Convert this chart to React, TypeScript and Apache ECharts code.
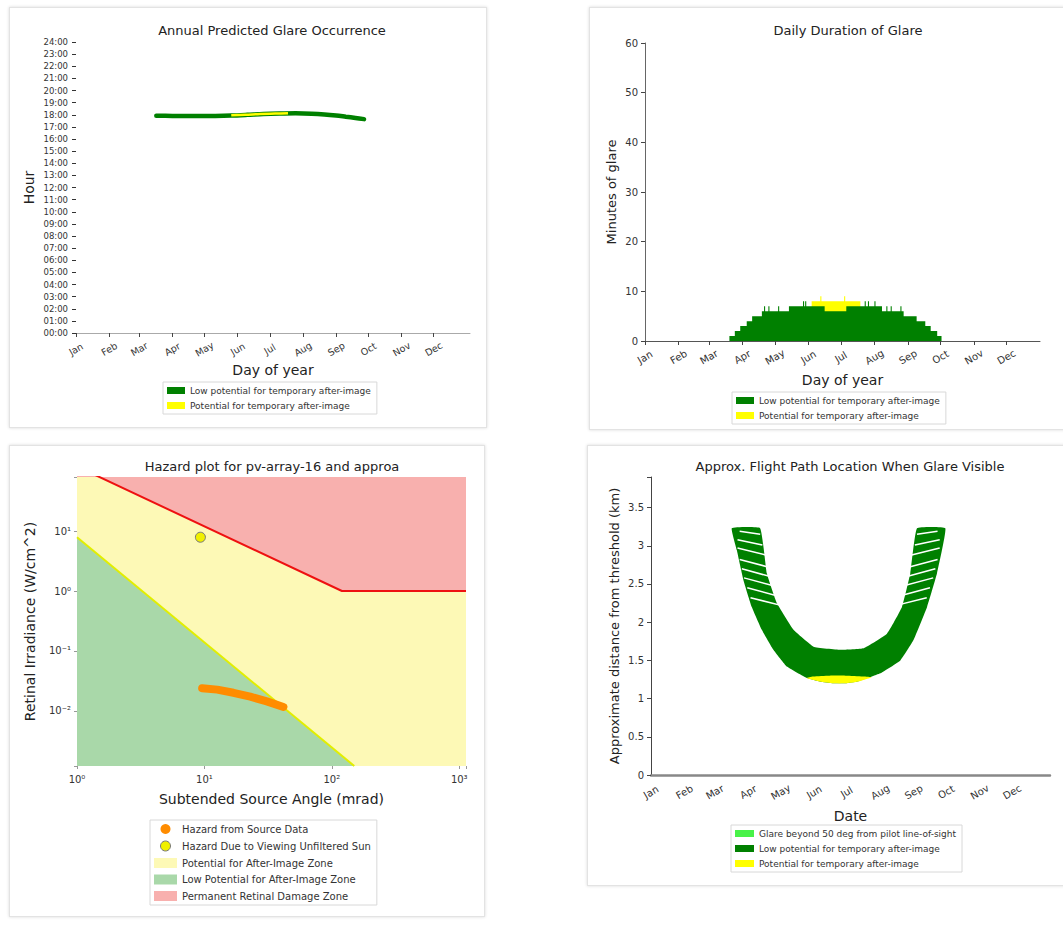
import React, { useEffect, useRef } from "react";
import * as echarts from "echarts";

const FONT = "'DejaVu Sans', sans-serif";

// ---------- shared axis data ----------
const MONTHS = ["Jan", "Feb", "Mar", "Apr", "May", "Jun", "Jul", "Aug", "Sep", "Oct", "Nov", "Dec"];
const MONTH_START_DAYS = [0, 31, 59, 90, 120, 151, 181, 212, 243, 273, 304, 334];

// ---------- panel 1: Annual Predicted Glare Occurrence (day, hour) ----------
const annualLowPotential: number[][] = [
  [75, 17.92], [90, 17.9], [110, 17.89], [130, 17.9], [145, 17.93], [160, 17.99], [175, 18.06],
  [190, 18.1], [205, 18.12], [220, 18.09], [232, 18.03], [243, 17.94], [252, 17.84], [261, 17.74], [269, 17.64],
];
const annualPotential: number[][] = [
  [145, 17.95], [158, 17.99], [172, 18.06], [186, 18.1], [198, 18.12],
];

// ---------- panel 2: Daily Duration of Glare (run starts: [day, minutes]) ----------
const durationLowSteps: number[][] = [
  [78, 1], [83, 2], [88, 3], [94, 4], [99, 5], [108, 6], [110, 7], [111, 6], [114, 7], [115, 6],
  [123, 7], [124, 6], [133, 7], [146, 8], [147, 7], [148, 8], [149, 7], [166, 6], [186, 7],
  [203, 8], [204, 7], [206, 8], [207, 7], [212, 8], [213, 7], [219, 6], [223, 7], [224, 6],
  [227, 7], [228, 6], [236, 7], [237, 6], [239, 5], [251, 4], [259, 3], [264, 2], [270, 1], [274, 0],
];
const durationPotentialSteps: number[][] = [
  [154, 8], [162, 9], [163, 8], [184, 9], [185, 8], [199, 0],
];

// ---------- panel 3: Hazard plot (mrad, W/cm^2) ----------
const retinalDamageLimit: number[][] = [[1, 120], [120, 1], [1130, 1]];
const afterImageLimit: number[][] = [[1, 7.9], [150, 0.0012]];
const sourceHazard: number[][] = [
  [9.6, 0.0239], [12.6, 0.0226], [16.9, 0.02], [22.9, 0.0172], [30.9, 0.0144], [41.7, 0.0116],
];
const sunHazard: number[][] = [[9.3, 7.9]];

// ---------- panel 4: Flight path location (day, km) ----------
const flightBandLow: number[][] = [
  [74.7, 3.23], [79.4, 2.94], [85.5, 2.55], [93.2, 2.2], [102.5, 1.9], [113.2, 1.64], [125.6, 1.42],
  [144.2, 1.27], [156, 1.225], [168.8, 1.2], [180, 1.2], [190.5, 1.22], [212, 1.33], [230.6, 1.5],
  [242.9, 1.77], [255.3, 2.2], [264.5, 2.64], [272.2, 3.23],
  [246, 3.23], [239.8, 2.64], [232.1, 2.2], [218.2, 1.85], [196.6, 1.66], [175, 1.64], [150.3, 1.68],
  [131.8, 1.9], [116.4, 2.25], [107.1, 2.64], [100.9, 3.23],
];
const flightBandPotential: number[][] = [
  [144, 1.27], [156, 1.225], [168.8, 1.2], [180, 1.2], [190.5, 1.22], [204, 1.28],
  [196, 1.29], [180, 1.3], [165, 1.3], [150, 1.29],
];
const flightStripeGaps: number[][][] = [
  [[82, 3.19], [101, 3.15]], [[80, 3.08], [103, 3.01]], [[80, 2.97], [106, 2.88]], [[82, 2.82], [109, 2.72]],
  [[84, 2.7], [112, 2.59]], [[86, 2.58], [115, 2.47]], [[89, 2.45], [118, 2.34]], [[92, 2.32], [123, 2.21]],
  [[246, 3.15], [265, 3.19]], [[244, 3.01], [267, 3.08]], [[241, 2.88], [267, 2.97]], [[238, 2.72], [265, 2.82]],
  [[235, 2.59], [263, 2.7]], [[232, 2.47], [261, 2.58]], [[229, 2.34], [258, 2.45]], [[224, 2.21], [255, 2.32]],
];

const LOW = "Low potential for temporary after-image";
const POT = "Potential for temporary after-image";
const GREEN = "#008000";
const YELLOW = "#ffff00";

function monthAxis(max: number, fontSize: number, margin: number, lineColor: string, extra: any = {}) {
  return {
    type: "value",
    min: 0,
    max,
    axisLine: { show: true, lineStyle: { color: lineColor, width: 1 } },
    axisTick: { show: true, customValues: MONTH_START_DAYS, length: 4, lineStyle: { color: "#444" } },
    axisLabel: {
      customValues: MONTH_START_DAYS,
      formatter: (v: number) => MONTHS[MONTH_START_DAYS.indexOf(Math.round(v))] || "",
      rotate: 30,
      align: "center",
      verticalAlign: "middle",
      margin,
      fontSize,
      color: "#333",
      fontFamily: FONT,
    },
    splitLine: { show: false },
    nameLocation: "middle",
    nameTextStyle: { fontSize: 14, color: "#222", fontFamily: FONT },
    ...extra,
  };
}

function titleText(text: string, x: number, y: number) {
  return {
    type: "text",
    x,
    y,
    style: { text, align: "center", verticalAlign: "middle", fontSize: 13, fontFamily: FONT, fill: "#222" },
  };
}

function legendBase(left: number, top: number, itemW: number, itemH: number, gap: number, fontSize: number) {
  return {
    orient: "vertical",
    left,
    top,
    itemWidth: itemW,
    itemHeight: itemH,
    itemGap: gap,
    selectedMode: false,
    padding: [4, 6, 4, 4],
    borderColor: "#d8d8d8",
    borderWidth: 1,
    textStyle: { fontSize, color: "#333", fontFamily: FONT },
  };
}

function option1(): any {
  return {
    animation: false,
    textStyle: { fontFamily: FONT },
    graphic: [titleText("Annual Predicted Glare Occurrence", 272, 30)],
    grid: { left: 76, top: 42, width: 394, height: 291 },
    xAxis: monthAxis(368, 9.5, 16, "#aaa", { name: "Day of year", nameGap: 30 }),
    yAxis: {
      type: "value",
      min: 0,
      max: 24,
      interval: 1,
      axisLine: { show: false },
      axisTick: { show: true, length: 4, lineStyle: { color: "#333" } },
      axisLabel: {
        formatter: (v: number) => (v < 10 ? "0" : "") + v + ":00",
        fontSize: 8.5,
        color: "#333",
        margin: 8,
        fontFamily: FONT,
      },
      splitLine: { show: false },
      name: "Hour",
      nameLocation: "middle",
      nameGap: 40,
      nameTextStyle: { fontSize: 14, color: "#222", fontFamily: FONT },
    },
    legend: {
      ...legendBase(163, 382, 18, 7, 6, 9),
      data: [
        { name: LOW, icon: "rect", itemStyle: { color: GREEN, borderWidth: 0 } },
        { name: POT, icon: "rect", itemStyle: { color: YELLOW, borderWidth: 0 } },
      ],
    },
    series: [
      {
        name: LOW,
        type: "line",
        data: annualLowPotential,
        showSymbol: false,
        smooth: 0.3,
        lineStyle: { color: GREEN, width: 4.5, cap: "round" },
        itemStyle: { color: GREEN },
      },
      {
        name: POT,
        type: "line",
        data: annualPotential,
        showSymbol: false,
        smooth: 0.3,
        lineStyle: { color: YELLOW, width: 2.5 },
        itemStyle: { color: YELLOW },
      },
    ],
  };
}

function option2(): any {
  return {
    animation: false,
    textStyle: { fontFamily: FONT },
    graphic: [titleText("Daily Duration of Glare", 848, 30)],
    grid: { left: 645, top: 43, width: 395, height: 298 },
    xAxis: monthAxis(365, 10, 16, "#555", { name: "Day of year", nameGap: 32 }),
    yAxis: {
      type: "value",
      min: 0,
      max: 60,
      interval: 10,
      axisLine: { show: true, lineStyle: { color: "#666" } },
      axisTick: { show: true, length: 4, lineStyle: { color: "#444" } },
      axisLabel: { fontSize: 10, color: "#333", margin: 7, fontFamily: FONT },
      splitLine: { show: false },
      name: "Minutes of glare",
      nameLocation: "middle",
      nameGap: 27,
      nameTextStyle: { fontSize: 13, color: "#222", fontFamily: FONT },
    },
    legend: {
      ...legendBase(732, 392, 18, 7, 6, 9),
      data: [
        { name: LOW, icon: "rect", itemStyle: { color: GREEN, borderWidth: 0 } },
        { name: POT, icon: "rect", itemStyle: { color: YELLOW, borderWidth: 0 } },
      ],
    },
    series: [
      {
        name: POT,
        type: "line",
        step: "end",
        data: durationPotentialSteps,
        showSymbol: false,
        lineStyle: { width: 0, color: YELLOW },
        areaStyle: { color: YELLOW, opacity: 1 },
        itemStyle: { color: YELLOW },
      },
      {
        name: LOW,
        type: "line",
        step: "end",
        data: durationLowSteps,
        showSymbol: false,
        lineStyle: { width: 0, color: GREEN },
        areaStyle: { color: GREEN, opacity: 1 },
        itemStyle: { color: GREEN },
      },
    ],
  };
}

const SUPERS: Record<string, string> = { "0": "⁰", "1": "¹", "2": "²", "3": "³", "-": "⁻" };
function powerLabel(v: number) {
  const e = Math.log10(v);
  const r = Math.round(e);
  if (Math.abs(e - r) > 1e-6) return "";
  return "10" + String(r).split("").map((c) => SUPERS[c] || c).join("");
}

const ZONE_YELLOW = "#fdf9b6";
const ZONE_GREEN = "#a9d8a9";
const ZONE_RED = "#f8b0ae";

function option3(): any {
  return {
    animation: false,
    textStyle: { fontFamily: FONT },
    graphic: [titleText("Hazard plot for pv-array-16 and approa", 272, 466)],
    grid: { left: 77, top: 477, width: 389, height: 289 },
    xAxis: {
      type: "log",
      logBase: 10,
      min: 1,
      max: 1130,
      axisLine: { show: false },
      axisTick: { show: true, length: 3, lineStyle: { color: "#999" } },
      axisLabel: { formatter: powerLabel, fontSize: 10, color: "#333", margin: 8, fontFamily: FONT },
      splitLine: { show: false },
      name: "Subtended Source Angle (mrad)",
      nameLocation: "middle",
      nameGap: 26,
      nameTextStyle: { fontSize: 14, color: "#222", fontFamily: FONT },
    },
    yAxis: {
      type: "log",
      logBase: 10,
      min: 0.0012,
      max: 80,
      axisLine: { show: false },
      axisTick: { show: true, length: 3, lineStyle: { color: "#999" } },
      axisLabel: { formatter: powerLabel, fontSize: 10, color: "#333", margin: 6, fontFamily: FONT },
      splitLine: { show: false },
      name: "Retinal Irradiance (W/cm^2)",
      nameLocation: "middle",
      nameGap: 40,
      nameTextStyle: { fontSize: 14, color: "#222", fontFamily: FONT },
    },
    legend: {
      ...legendBase(150, 820, 23, 10, 6.5, 10),
      data: [
        { name: "Hazard from Source Data", icon: "circle", itemStyle: { color: "#ff8c00", borderWidth: 0 } },
        { name: "Hazard Due to Viewing Unfiltered Sun", icon: "circle", itemStyle: { color: "#f0f000", borderColor: "#777", borderWidth: 1 } },
        { name: "Potential for After-Image Zone", icon: "rect", itemStyle: { color: ZONE_YELLOW, borderWidth: 0 } },
        { name: "Low Potential for After-Image Zone", icon: "rect", itemStyle: { color: ZONE_GREEN, borderWidth: 0 } },
        { name: "Permanent Retinal Damage Zone", icon: "rect", itemStyle: { color: ZONE_RED, borderWidth: 0 } },
      ],
    },
    series: [
      {
        name: "Potential for After-Image Zone",
        type: "line",
        data: retinalDamageLimit,
        showSymbol: false,
        lineStyle: { width: 0, color: ZONE_YELLOW },
        areaStyle: { color: ZONE_YELLOW, opacity: 1, origin: "start" },
        itemStyle: { color: ZONE_YELLOW },
        z: 1,
      },
      {
        name: "Low Potential for After-Image Zone",
        type: "line",
        data: afterImageLimit,
        showSymbol: false,
        lineStyle: { width: 2, color: "#e2ee00" },
        areaStyle: { color: ZONE_GREEN, opacity: 1, origin: "start" },
        itemStyle: { color: ZONE_GREEN },
        z: 2,
      },
      {
        name: "Permanent Retinal Damage Zone",
        type: "line",
        data: retinalDamageLimit,
        showSymbol: false,
        lineStyle: { width: 2, color: "#ee1111" },
        areaStyle: { color: ZONE_RED, opacity: 1, origin: "end" },
        itemStyle: { color: ZONE_RED },
        z: 3,
      },
      {
        name: "Hazard from Source Data",
        type: "line",
        data: sourceHazard,
        showSymbol: false,
        smooth: false,
        lineStyle: { width: 8, color: "#ff8c00", cap: "round", join: "round" },
        itemStyle: { color: "#ff8c00" },
        z: 4,
      },
      {
        name: "Hazard Due to Viewing Unfiltered Sun",
        type: "scatter",
        data: sunHazard,
        symbolSize: 10,
        itemStyle: { color: "#f0f000", borderColor: "#777", borderWidth: 1, opacity: 1 },
        z: 5,
      },
    ],
  };
}

function polygonRenderer(points: number[][], fill: string, smooth: number) {
  return (params: any, api: any) => {
    if (params.dataIndex !== 0) return null;
    return {
      type: "polygon",
      shape: { points: points.map((p) => api.coord(p)), smooth },
      style: { fill, stroke: null },
    };
  };
}

function option4(): any {
  return {
    animation: false,
    textStyle: { fontFamily: FONT },
    graphic: [titleText("Approx. Flight Path Location When Glare Visible", 850, 466)],
    grid: { left: 651, top: 477, width: 399, height: 298 },
    xAxis: monthAxis(369, 10, 17, "#666", {
      name: "Date",
      nameGap: 34,
      axisLine: { show: true, lineStyle: { color: "#888", width: 2.5, type: [1, 1] } },
      axisTick: { show: false },
    }),
    yAxis: {
      type: "value",
      min: 0,
      max: 3.9,
      interval: 0.5,
      axisLine: { show: true, lineStyle: { color: "#444" } },
      axisTick: { show: true, length: 4, lineStyle: { color: "#444" } },
      axisLabel: {
        formatter: (v: number) => (Math.abs(v * 2 - Math.round(v * 2)) < 1e-6 ? String(v) : ""),
        fontSize: 10,
        color: "#333",
        margin: 7,
        fontFamily: FONT,
      },
      splitLine: { show: false },
      name: "Approximate distance from threshold (km)",
      nameLocation: "middle",
      nameGap: 30,
      nameTextStyle: { fontSize: 13, color: "#222", fontFamily: FONT },
    },
    legend: {
      ...legendBase(731, 825, 19, 7, 6, 9),
      data: [
        { name: "Glare beyond 50 deg from pilot line-of-sight", icon: "rect", itemStyle: { color: "#1aef1a", borderWidth: 0 } },
        { name: LOW, icon: "rect", itemStyle: { color: GREEN, borderWidth: 0 } },
        { name: POT, icon: "rect", itemStyle: { color: YELLOW, borderWidth: 0 } },
      ],
    },
    series: [
      {
        name: "Glare beyond 50 deg from pilot line-of-sight",
        type: "scatter",
        data: [],
        itemStyle: { color: "#1aef1a" },
      },
      {
        name: LOW,
        type: "custom",
        data: flightBandLow,
        renderItem: polygonRenderer(flightBandLow, GREEN, 0.1),
        itemStyle: { color: GREEN },
        z: 2,
      },
      {
        name: POT,
        type: "custom",
        data: flightBandPotential,
        renderItem: polygonRenderer(flightBandPotential, YELLOW, 0.2),
        itemStyle: { color: YELLOW },
        z: 3,
      },
      {
        type: "lines",
        coordinateSystem: "cartesian2d",
        data: flightStripeGaps.map((g) => ({ coords: g })),
        lineStyle: { color: "#ffffff", width: 1.5, opacity: 1 },
        silent: true,
        z: 4,
      },
    ],
  };
}

const CARDS = [
  { left: 9, top: 7, width: 478, height: 421 },
  { left: 589, top: 7, width: 480, height: 423 },
  { left: 9, top: 445, width: 476, height: 472 },
  { left: 587, top: 445, width: 480, height: 441 },
];

export default function App() {
  const r1 = useRef<HTMLDivElement>(null);
  const r2 = useRef<HTMLDivElement>(null);
  const r3 = useRef<HTMLDivElement>(null);
  const r4 = useRef<HTMLDivElement>(null);

  useEffect(() => {
    const refs = [r1, r2, r3, r4];
    const opts = [option1(), option2(), option3(), option4()];
    const charts = refs.map((r, i) => {
      const c = echarts.init(r.current as HTMLDivElement, undefined, { renderer: "svg" });
      c.setOption(opts[i]);
      return c;
    });
    return () => charts.forEach((c) => c.dispose());
  }, []);

  const layer: React.CSSProperties = { position: "absolute", left: 0, top: 0, width: 1063, height: 928 };
  return (
    <div style={{ position: "absolute", left: 0, top: 0, width: 1063, height: 928, overflow: "hidden", background: "#fff" }}>
      {CARDS.map((c, i) => (
        <div
          key={i}
          style={{
            position: "absolute",
            ...c,
            boxSizing: "border-box",
            border: "1px solid #e3e3e3",
            boxShadow: "0 0 3px rgba(0,0,0,0.15)",
            background: "#fff",
          }}
        />
      ))}
      <div ref={r1} style={layer} />
      <div ref={r2} style={layer} />
      <div ref={r3} style={layer} />
      <div ref={r4} style={layer} />
    </div>
  );
}
